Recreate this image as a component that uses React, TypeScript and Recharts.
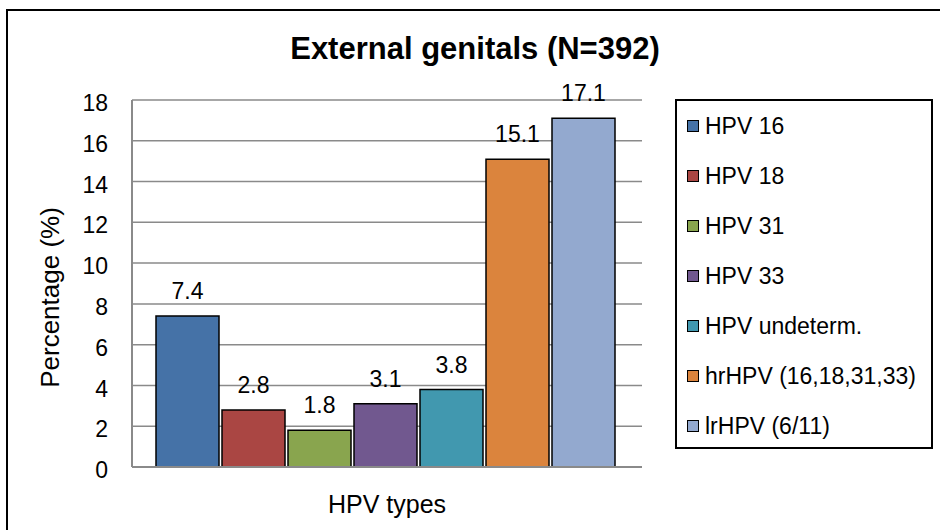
import React from 'react';
import { BarChart, Bar, XAxis, YAxis, CartesianGrid, Legend, LabelList, Label } from 'recharts';

const categories = ['HPV 16', 'HPV 18', 'HPV 31', 'HPV 33', 'HPV undeterm.', 'hrHPV (16,18,31,33)', 'lrHPV (6/11)'];
const values = [7.4, 2.8, 1.8, 3.1, 3.8, 15.1, 17.1];
const colors = ['#4572A7', '#AA4643', '#89A54E', '#71588F', '#4198AF', '#DB843D', '#93A9CF'];
const yTicks = [0, 2, 4, 6, 8, 10, 12, 14, 16, 18];
const groupName = 'HPV types';

const keys = categories.map((_, i) => `s${i}`);
const row: Record<string, any> = { name: groupName };
keys.forEach((k, i) => { row[k] = values[i]; });
const data = [row];

const FONT = '"Liberation Sans", Arial, sans-serif';

const LegendBox = (props: any) => {
  const payload = props.payload || [];
  return (
    <div style={{ width: 258, height: 350, border: '2px solid #000', boxSizing: 'border-box', background: '#fff', paddingTop: 0, fontFamily: FONT, overflow: 'visible' }}>
      {payload.map((p: any, i: number) => (
        <div key={i} style={{ display: 'flex', alignItems: 'center', height: 50, paddingLeft: 10 }}>
          <div style={{ width: 10, height: 10, background: p.color, border: '1.5px solid #000', marginRight: 6, flexShrink: 0 }} />
          <span style={{ fontSize: 23, color: '#000', whiteSpace: 'nowrap' }}>{p.value}</span>
        </div>
      ))}
    </div>
  );
};

const YTitle = (props: any) => {
  const vb = props.viewBox || {};
  const cx = vb.x + vb.width * 0.38;
  const cy = vb.y + vb.height / 2 + 14;
  return (
    <text x={cx} y={cy} transform={`rotate(-90 ${cx} ${cy})`} textAnchor="middle" dominantBaseline="central" fontSize={26} fontFamily={FONT} fill="#000">
      {props.value}
    </text>
  );
};

export default function App() {
  return (
    <div style={{ position: 'absolute', left: 0, top: 0, width: 940, height: 530, overflow: 'hidden', background: '#fff' }}>
      <div style={{ position: 'absolute', left: 6, top: 9, width: 960, height: 560, borderLeft: '2px solid #000', borderTop: '2px solid #000' }} />
      <div style={{ position: 'absolute', left: 0, width: 950, top: 31, textAlign: 'center', fontFamily: FONT, fontWeight: 'bold', fontSize: 31, lineHeight: '36px', color: '#000' }}>
        External genitals (N=392)
      </div>
      <div style={{ position: 'absolute', left: 0, top: 0 }}>
        <BarChart width={940} height={530} data={data} margin={{ top: 100, right: 40, bottom: 0, left: 0 }} barCategoryGap={24} barGap={3}>
          <CartesianGrid vertical={false} stroke="#8a8a8a" strokeWidth={1.5} />
          <XAxis dataKey="name" tick={false} tickLine={false} axisLine={{ stroke: '#8a8a8a', strokeWidth: 2 }} height={63}>
            <Label value={groupName} position="insideBottom" offset={17} fontSize={25} fontFamily={FONT} fill="#000" />
          </XAxis>
          <XAxis xAxisId="top" orientation="top" dataKey="name" tick={false} tickLine={false} axisLine={{ stroke: '#000', strokeWidth: 1.5 }} height={0} />
          <YAxis domain={[0, 18]} ticks={yTicks} interval={0} width={132} tickSize={0} tickMargin={24} tickLine={false}
            axisLine={{ stroke: '#8a8a8a', strokeWidth: 2 }} tick={{ fontSize: 23, fontFamily: FONT, fill: '#000', dy: 3 }}>
            <Label value="Percentage (%)" content={<YTitle />} />
          </YAxis>
          <YAxis yAxisId="right" orientation="right" domain={[0, 18]} tick={false} tickLine={false} width={0} axisLine={{ stroke: '#000', strokeWidth: 1.5 }} />
          <Legend layout="vertical" align="right" verticalAlign="middle" content={<LegendBox />}
            wrapperStyle={{ left: 675, top: 99, right: 'auto', bottom: 'auto', width: 258, height: 350 }} />
          {keys.map((k, i) => (
            <Bar key={k} dataKey={k} name={categories[i]} fill={colors[i]} stroke="#000" strokeWidth={1.5} isAnimationActive={false}>
              <LabelList dataKey={k} position="top" offset={17} fontSize={23} fontFamily={FONT} fill="#000" />
            </Bar>
          ))}
        </BarChart>
      </div>
    </div>
  );
}
